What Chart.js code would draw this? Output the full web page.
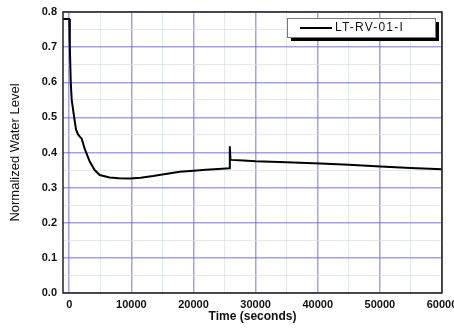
<!DOCTYPE html>
<html>
<head>
<meta charset="utf-8">
<script src="https://cdn.jsdelivr.net/npm/chart.js@4/dist/chart.umd.min.js"></script>
<style>
html,body{margin:0;padding:0;background:#fff;}
#wrap{width:454px;height:331px;position:relative;}
</style>
</head>
<body>
<div id="wrap"><canvas id="c" width="454" height="331"></canvas></div>
<script>
// ---- data ----
const seriesLabel = "LT-RV-01-I";
const timeSec = [-1000, 0, 100, 250, 400, 800, 1100, 1400, 1700, 2000, 2500, 3300, 4100, 4900, 6500, 8000, 9800, 11500, 13500, 15500, 17800, 20000, 22000, 24000, 25800, 25850, 25950, 26100, 28000, 30000, 35000, 40400, 45000, 50100, 55000, 60000];
const waterLevel = [0.78, 0.78, 0.70, 0.60, 0.55, 0.50, 0.465, 0.452, 0.445, 0.44, 0.41, 0.374, 0.35, 0.336, 0.329, 0.327, 0.326, 0.328, 0.333, 0.339, 0.345, 0.348, 0.351, 0.353, 0.355, 0.418, 0.38, 0.379, 0.377, 0.375, 0.372, 0.369, 0.365, 0.36, 0.356, 0.352];
const xTickLabels = [0, 10000, 20000, 30000, 40000, 50000, 60000];
const yTickLabels = [0.0, 0.1, 0.2, 0.3, 0.4, 0.5, 0.6, 0.7, 0.8];
const xMin = -1000, xMax = 60000, yMin = 0, yMax = 0.8;

const points = timeSec.map((t, i) => ({x: t, y: waterLevel[i]}));

function withMinors(majors) {
  const out = [];
  for (let i = 0; i < majors.length; i++) {
    out.push(majors[i]);
    if (i < majors.length - 1) out.push((majors[i] + majors[i + 1]) / 2);
  }
  return out;
}
const xAll = withMinors(xTickLabels);
const yAll = withMinors(yTickLabels);

const MAJOR = 'rgba(110,110,230,0.65)';
const MINOR = 'rgba(215,228,215,0.7)';
const xGridColors = xAll.map((v, i) => i % 2 === 0 ? MAJOR : MINOR);
const yGridColors = yAll.map((v, i) => i % 2 === 0 ? MAJOR : MINOR);
const xGridWidths = xAll.map((v, i) => i % 2 === 0 ? 1.5 : 1);
const yGridWidths = yAll.map((v, i) => i % 2 === 0 ? 1.5 : 1);
const FONT = "'Liberation Sans', Arial, sans-serif";

const framePlugin = {
  id: 'frame',
  afterDatasetsDraw(chart) {
    const {ctx, chartArea: a} = chart;
    ctx.save();
    ctx.strokeStyle = '#222';
    ctx.lineWidth = 1.5;
    ctx.strokeRect(a.left, a.top, a.right - a.left, a.bottom - a.top);
    // legend box
    const bx = 287, by = 18, bw = 148, bh = 19;
    ctx.fillStyle = '#000';
    ctx.fillRect(bx + 4, by + 4, bw, bh);
    ctx.fillStyle = '#fff';
    ctx.fillRect(bx, by, bw, bh);
    ctx.strokeStyle = '#777';
    ctx.lineWidth = 1;
    ctx.strokeRect(bx + 0.5, by + 0.5, bw, bh);
    ctx.strokeStyle = '#000';
    ctx.lineWidth = 2;
    ctx.beginPath();
    ctx.moveTo(300, 28);
    ctx.lineTo(332, 28);
    ctx.stroke();
    ctx.fillStyle = '#111';
    ctx.font = '12px ' + FONT;
    ctx.letterSpacing = '1.2px';
    ctx.textBaseline = 'middle';
    ctx.textAlign = 'left';
    ctx.fillText(chart.data.datasets[0].label, 335, 28);
    ctx.restore();
  }
};

new Chart(document.getElementById('c'), {
  type: 'line',
  data: {
    datasets: [{
      label: seriesLabel,
      data: points,
      borderColor: '#000',
      borderWidth: 2,
      pointRadius: 0,
      tension: 0,
      fill: false
    }]
  },
  options: {
    responsive: false,
    animation: false,
    layout: {padding: {top: 12, right: 12, left: 0, bottom: 0}},
    plugins: {legend: {display: false}, tooltip: {enabled: false}},
    scales: {
      x: {
        type: 'linear',
        min: xMin, max: xMax,
        afterBuildTicks(s) { s.ticks = xAll.map(v => ({value: v})); },
        afterFit(s) { s.height = 38; s.paddingRight = 0; s.paddingLeft = 0; },
        ticks: {
          autoSkip: false, maxRotation: 0, padding: 5,
          color: '#111',
          font: {family: FONT, size: 11, weight: 'bold'},
          callback: (v, i) => i % 2 === 0 ? String(v) : ''
        },
        grid: {
          color: xGridColors,
          lineWidth: xGridWidths, drawTicks: false
        },
        border: {display: false},
        title: {
          display: true, text: 'Time (seconds)', color: '#111',
          font: {family: FONT, size: 12, weight: 'bold'}, padding: {top: 0, bottom: 7}
        }
      },
      y: {
        type: 'linear',
        min: yMin, max: yMax,
        afterBuildTicks(s) { s.ticks = yAll.map(v => ({value: v})); },
        afterFit(s) { s.width = 63; s.paddingTop = 0; s.paddingBottom = 0; },
        ticks: {
          autoSkip: false, padding: 6,
          color: '#111',
          font: {family: FONT, size: 11, weight: 'bold'},
          callback: (v, i) => i % 2 === 0 ? Number(v).toFixed(1) : ''
        },
        grid: {
          color: yGridColors,
          lineWidth: yGridWidths, drawTicks: false
        },
        border: {display: false},
        title: {
          display: true, text: 'Normalized Water Level', color: '#111',
          font: {family: FONT, size: 13}, padding: {top: 8, bottom: 0}
        }
      }
    }
  },
  plugins: [framePlugin]
});
</script>
</body>
</html>
